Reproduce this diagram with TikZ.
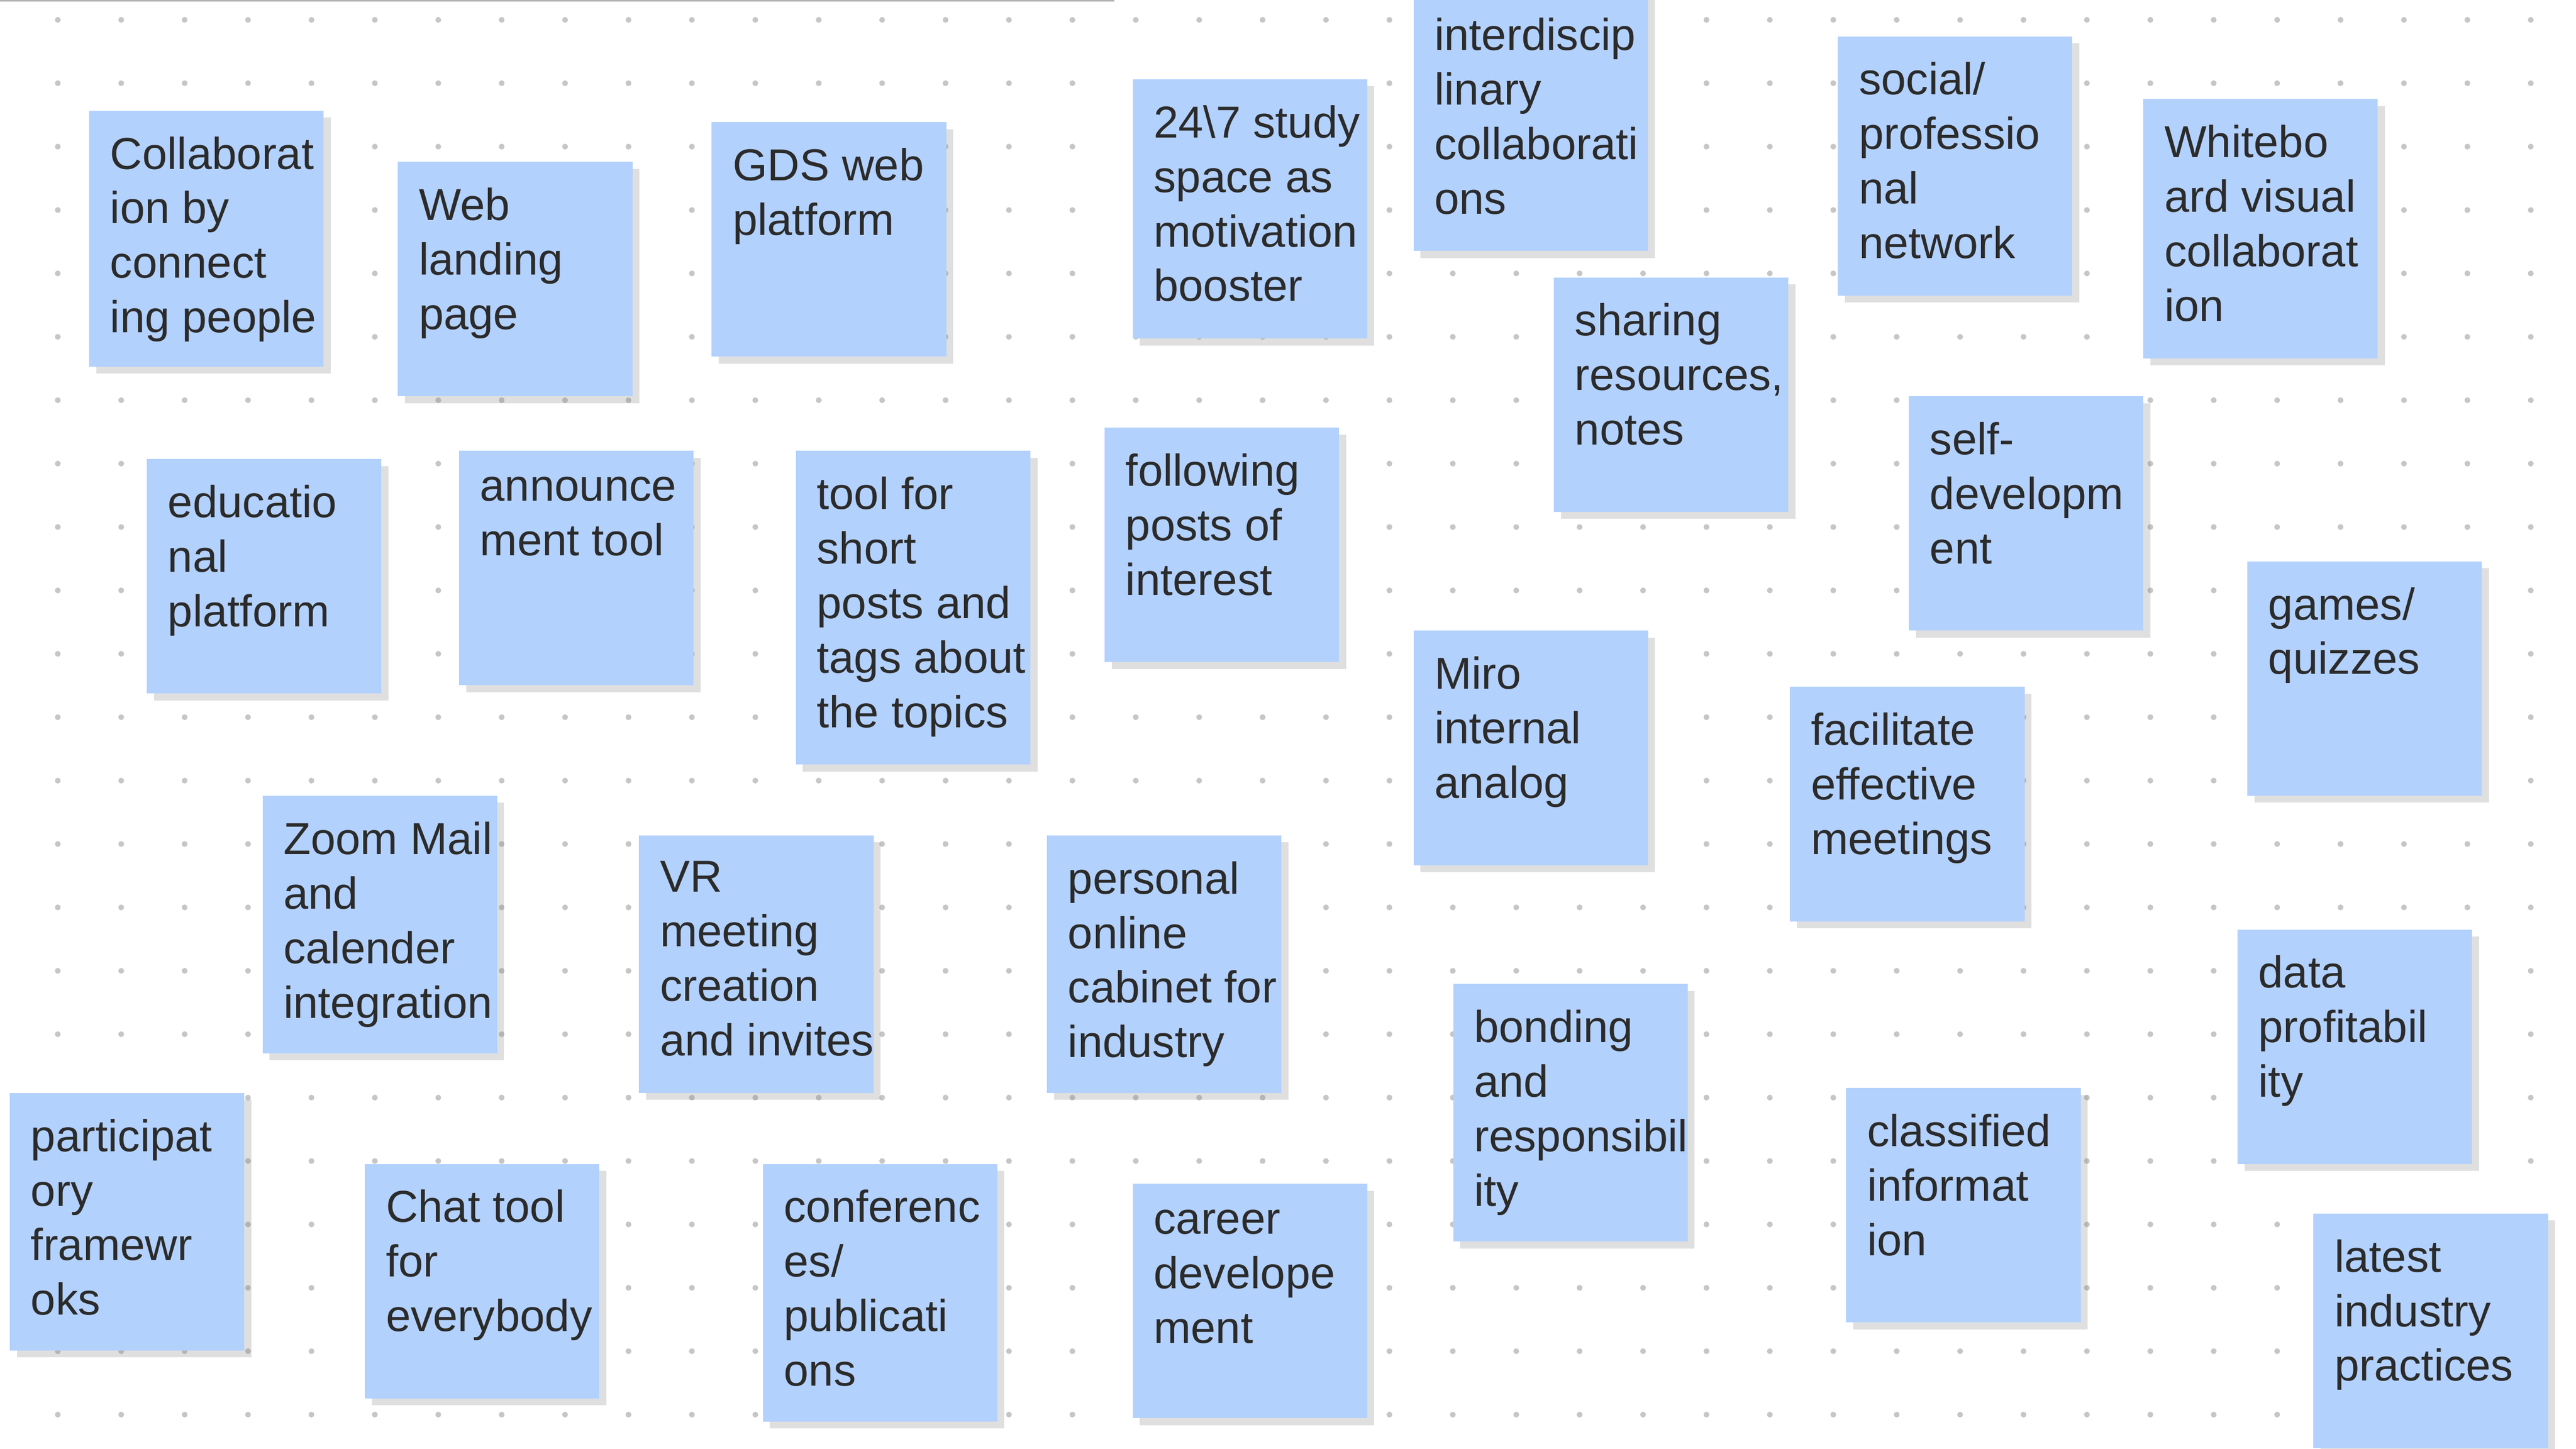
\documentclass[tikz,border=0pt]{standalone}
\usepackage{fontspec}
\setmainfont{Liberation Sans}
\usetikzlibrary{shadows}
\definecolor{notefill}{HTML}{B3D1FD}
\definecolor{notetext}{HTML}{2B2B2B}
\tikzset{
  sticky/.style={fill=notefill,draw=none,
    drop shadow={shadow xshift=1.2pt,shadow yshift=-1.2pt,opacity=0.25}},
  stickytext/.style={anchor=north west,align=left,inner sep=0pt,text=notetext,
    font=\fontsize{7.7}{9.4}\selectfont}
}
\begin{document}
\begin{tikzpicture}[x=0.01cm,y=-0.01cm]
     \useasboundingbox[fill=white] (0,0) rectangle (1560,877.5);
     \draw[gray!60,line width=0.6pt] (0,0) -- (675,0);
     % dot grid
     \foreach \i in {0,...,40}
       \foreach \j in {0,...,22}
         \fill[gray!45] (35+38.4*\i,12+38.4*\j) circle(0.5pt);
     % notes
     \foreach \x/\y/\h/\txt [count=\n] in {
        54/67/155/{Collaborat\\ion by\\connect\\ing people},
        241/98/142/{Web\\landing\\page},
        431/74/142/{GDS web\\platform},
        686/48/157/{24\textbackslash7 study\\space as\\motivation\\booster},
        856/-5/157/{interdiscip\\linary\\collaborati\\ons},
        1113/22/157/{social/\\professio\\nal\\network},
        1298/60/157/{Whitebo\\ard visual\\collaborat\\ion},
        941/168/142/{sharing\\resources,\\notes},
        1156/240/142/{self-\\developm\\ent},
        89/278/142/{educatio\\nal\\platform},
        278/273/142/{announce\\ment tool},
        482/273/190/{tool for\\short\\posts and\\tags about\\the topics},
        669/259/142/{following\\posts of\\interest},
        1361/340/142/{games/\\quizzes},
        856/382/142/{Miro\\internal\\analog},
        1084/416/142/{facilitate\\effective\\meetings},
        159/482/156/{Zoom Mail\\and\\calender\\integration},
        387/506/156/{VR\\meeting\\creation\\and invites},
        634/506/156/{personal\\online\\cabinet for\\industry},
        1355/563/142/{data\\profitabil\\ity},
        880/596/156/{bonding\\and\\responsibil\\ity},
        6/662/156/{participat\\ory\\framewr\\oks},
        221/705/142/{Chat tool\\for\\everybody},
        462/705/156/{conferenc\\es/\\publicati\\ons},
        686/717/142/{career\\develope\\ment},
        1118/659/142/{classified\\informat\\ion},
        1401/735/142/{latest\\industry\\practices}}
     {
       \fill[sticky] (\x,\y) rectangle ++(142,\h);
       \node[stickytext] (note\n) at (\x+12,\y+15) {\txt};
     }
\end{tikzpicture}
\end{document}
